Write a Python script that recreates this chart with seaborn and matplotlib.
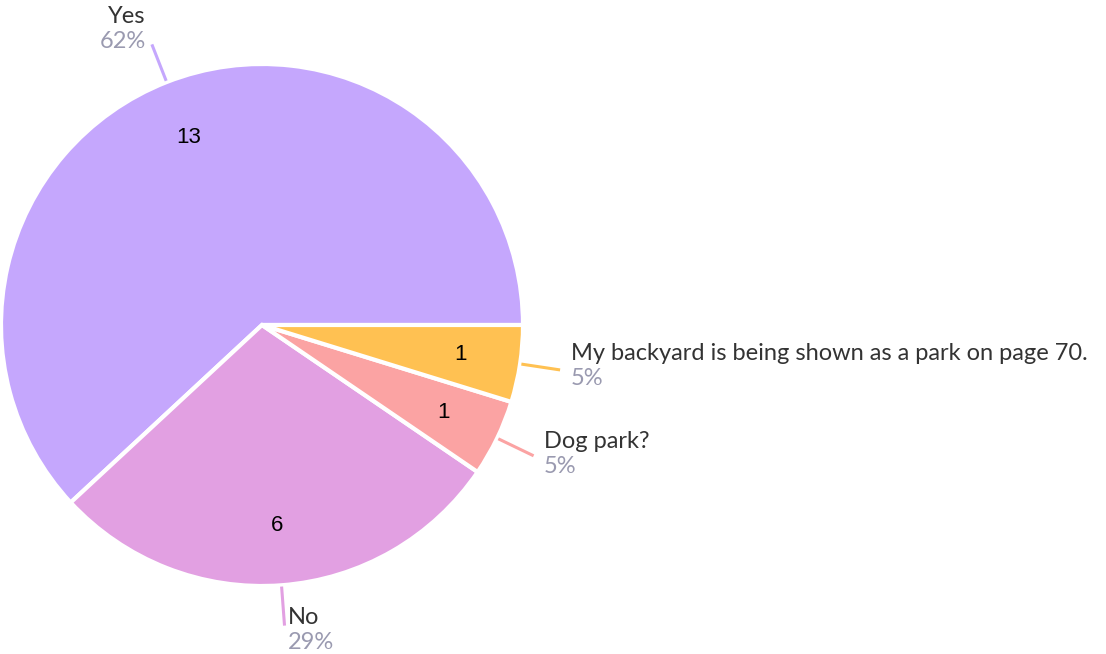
import numpy as np
import matplotlib
matplotlib.use("Agg")
import matplotlib.pyplot as plt
import seaborn as sns

# data
labels = ["Yes", "No", "Dog park?", "My backyard is being shown as a park on page 70."]
counts = [13, 6, 1, 1]
colors = ["#C5A7FD", "#E2A0E2", "#FBA3A3", "#FFC152"]

sns.set_theme(style="white")
plt.rcParams['font.family'] = ['Lato', 'DejaVu Sans']

W, H = 1106, 654
fig = plt.figure(figsize=(W / 100, H / 100), dpi=100)
ax = fig.add_axes([0, 0, 1, 1])

cx, cy, R = 262, H - 325, 261
total = sum(counts)

wedges, _, autotexts = ax.pie(
    counts, colors=colors, startangle=0, counterclock=True,
    center=(cx, cy), radius=R, frame=True,
    autopct=lambda p: f"{round(p * total / 100)}", pctdistance=0.77,
    wedgeprops=dict(edgecolor="white", linewidth=3),
    textprops=dict(color="black", fontsize=16, family=['Liberation Sans']),
)
ax.set_xlim(0, W)
ax.set_ylim(0, H)
ax.axis("off")

# leader lines + labels
for w, lab, n, col in zip(wedges, labels, counts, colors):
    ang = np.deg2rad((w.theta1 + w.theta2) / 2)
    c, s = np.cos(ang), np.sin(ang)
    x0, y0 = cx + 1.005 * R * c, cy + 1.005 * R * s
    x1, y1 = cx + 1.155 * R * c, cy + 1.155 * R * s
    ax.plot([x0, x1], [y0, y1], color=col, lw=2.2, solid_capstyle="butt")
    dx = 3 + 8 * abs(c)
    ha = "left" if c > 0 else "right"
    tx = x1 + dx if c > 0 else x1 - dx
    off = -18.4 - 10.4 * s
    ax.text(tx, y1 - off, lab, ha=ha, va="center", fontsize=17, color="#333333")
    ax.text(tx, y1 - off - 25, f"{n / total * 100:.0f}%", ha=ha, va="center",
            fontsize=17, color="#9A9AB0")

fig.savefig("out.png", dpi=100)
